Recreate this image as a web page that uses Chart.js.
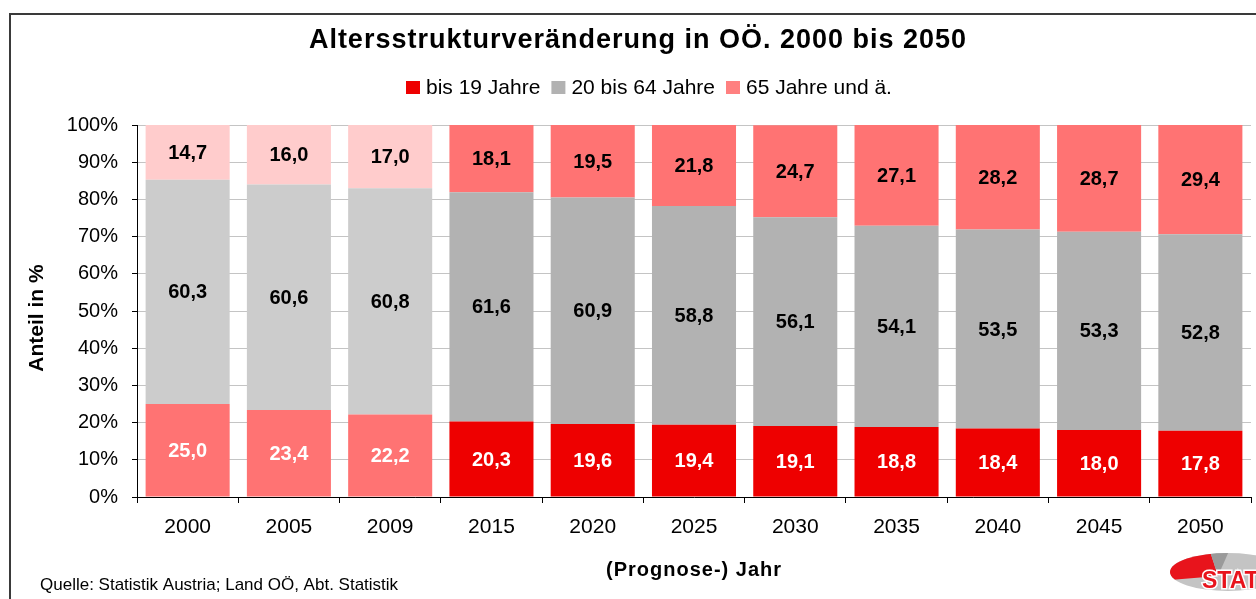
<!DOCTYPE html>
<html>
<head>
<meta charset="utf-8">
<script src="https://cdn.jsdelivr.net/npm/chart.js@4.4.1/dist/chart.umd.min.js"></script>
<style>
  html, body { margin: 0; padding: 0; background: #fff; }
  #wrap { width: 1256px; height: 599px; position: relative; }
</style>
</head>
<body>
<div id="wrap"><canvas id="c" width="1256" height="599"></canvas></div>
<script>
// ---- data ----
const categories = ['2000','2005','2009','2015','2020','2025','2030','2035','2040','2045','2050'];
const seriesNames = ['bis 19 Jahre', '20 bis 64 Jahre', '65 Jahre und ä.'];
const bis19 = [25.0, 23.4, 22.2, 20.3, 19.6, 19.4, 19.1, 18.8, 18.4, 18.0, 17.8];
const age20to64 = [60.3, 60.6, 60.8, 61.6, 60.9, 58.8, 56.1, 54.1, 53.5, 53.3, 52.8];
const age65plus = [14.7, 16.0, 17.0, 18.1, 19.5, 21.8, 24.7, 27.1, 28.2, 28.7, 29.4];
const yTicks = [0,10,20,30,40,50,60,70,80,90,100];
const titleText = 'Altersstrukturveränderung in OÖ. 2000 bis 2050';
const xTitleText = '(Prognose-) Jahr';
const yTitleText = 'Anteil in %';
const sourceText = 'Quelle: Statistik Austria; Land OÖ, Abt. Statistik';

// ---- styles ----
const histCount = 3; // first three columns are observed values (lighter palette)
const colHist = ['#FF7373', '#CCCCCC', '#FFCCCC'];
const colProg = ['#EE0000', '#B2B2B2', '#FF7373'];
const legendColors = ['#EE0000', '#B2B2B2', '#FF8080'];
const labelColors = ['#FFFFFF', '#000000', '#000000'];
const FONT = "'Liberation Sans', Arial, sans-serif";

function colorsFor(i) {
  return categories.map((c, k) => (k < histCount ? colHist[i] : colProg[i]));
}

const seriesData = [bis19, age20to64, age65plus];
const datasets = seriesData.map((d, i) => ({
  label: seriesNames[i],
  data: d,
  backgroundColor: colorsFor(i),
  borderWidth: 0,
  barPercentage: 0.83,
  categoryPercentage: 1.0,
  stack: 's'
}));

const fmt = v => v.toFixed(1).replace('.', ',');

const labelPlugin = {
  id: 'segLabels',
  afterDatasetsDraw(chart) {
    const ctx = chart.ctx;
    ctx.save();
    ctx.font = 'bold 20px ' + FONT;
    ctx.textAlign = 'center';
    ctx.textBaseline = 'middle';
    chart.data.datasets.forEach((ds, i) => {
      const meta = chart.getDatasetMeta(i);
      ctx.fillStyle = labelColors[i];
      meta.data.forEach((bar, k) => {
        const cy = (bar.y + bar.base) / 2;
        ctx.fillText(fmt(ds.data[k]), bar.x, cy + 1);
      });
    });
    ctx.restore();
  }
};

const decoPlugin = {
  id: 'deco',
  afterDraw(chart) {
    const ctx = chart.ctx;
    const area = chart.chartArea;
    ctx.save();
    // frame
    ctx.fillStyle = '#3A3A3A';
    ctx.fillRect(9, 13, 1247, 2);
    ctx.fillRect(9, 13, 2, 586);

    // title
    ctx.fillStyle = '#000';
    ctx.font = 'bold 27px ' + FONT;
    ctx.textAlign = 'center';
    ctx.textBaseline = 'middle';
    try { ctx.letterSpacing = '1px'; } catch (e) {}
    ctx.fillText(titleText, 638, 41);

    // x axis title
    ctx.font = 'bold 20px ' + FONT;
    ctx.fillText(xTitleText, (area.left + area.right) / 2, 570);
    try { ctx.letterSpacing = '0px'; } catch (e) {}

    // y axis title
    ctx.save();
    ctx.translate(37, (area.top + area.bottom) / 2 + 7);
    ctx.rotate(-Math.PI / 2);
    ctx.font = 'bold 21px ' + FONT;
    ctx.fillText(yTitleText, 0, 0);
    ctx.restore();

    // legend
    ctx.font = '21px ' + FONT;
    ctx.textAlign = 'left';
    let x = 406;
    seriesNames.forEach((name, i) => {
      ctx.fillStyle = legendColors[i];
      ctx.fillRect(x, 81, 14, 13);
      ctx.fillStyle = '#000';
      ctx.fillText(name, x + 20, 88);
      x += 20 + ctx.measureText(name).width + 11;
    });

    // source
    ctx.font = '17px ' + FONT;
    ctx.fillStyle = '#000';
    ctx.textBaseline = 'alphabetic';
    ctx.fillText(sourceText, 40, 590);

    // logo (approximate)
    const cx = 1228, cy = 572, rx = 58, ry = 19;
    ctx.beginPath();
    ctx.ellipse(cx, cy, rx, ry, 0, 0, Math.PI * 2);
    ctx.fillStyle = '#C4C4C4';
    ctx.fill();
    ctx.save();
    ctx.beginPath();
    ctx.ellipse(cx, cy, rx, ry, 0, 0, Math.PI * 2);
    ctx.clip();
    ctx.beginPath();
    ctx.moveTo(cx - 10, cy + 4);
    ctx.lineTo(cx - 80, cy + 10);
    ctx.lineTo(cx - 80, cy - 30);
    ctx.lineTo(cx - 21, cy - 30);
    ctx.closePath();
    ctx.fillStyle = '#E8141C';
    ctx.fill();
    ctx.beginPath();
    ctx.moveTo(cx - 10, cy + 4);
    ctx.lineTo(cx - 21, cy - 30);
    ctx.lineTo(cx + 5, cy - 30);
    ctx.closePath();
    ctx.fillStyle = '#9A9A9A';
    ctx.fill();
    ctx.restore();
    ctx.font = 'bold 23px ' + FONT;
    ctx.lineWidth = 3;
    ctx.strokeStyle = '#FFFFFF';
    ctx.strokeText('STAT', 1202, 588);
    ctx.fillStyle = '#E8141C';
    ctx.fillText('STAT', 1202, 588);
    ctx.restore();
  }
};

new Chart(document.getElementById('c'), {
  type: 'bar',
  data: { labels: categories, datasets },
  options: {
    responsive: false,
    animation: false,
    devicePixelRatio: 1,
    layout: { padding: { top: 125, left: 25, right: 5, bottom: 0 } },
    plugins: {
      legend: { display: false },
      title: { display: false },
      tooltip: { enabled: false }
    },
    scales: {
      x: {
        stacked: true,
        offset: true,
        grid: { display: true, drawOnChartArea: false, drawTicks: true, tickLength: 6, color: '#000', offset: true },
        border: { display: true, color: '#000', width: 1 },
        ticks: { color: '#000', font: { family: FONT, size: 21 }, padding: 12, maxRotation: 0 },
        title: { display: false },
        afterFit(scale) { scale.height = 102; }
      },
      y: {
        stacked: true,
        min: 0,
        max: 100,
        afterBuildTicks(scale) { scale.ticks = yTicks.map(v => ({ value: v })); },
        grid: { display: true, drawOnChartArea: true, drawTicks: true, tickLength: 5, color: '#C4C4C4', tickColor: '#000' },
        border: { display: true, color: '#000', width: 1 },
        ticks: { color: '#000', font: { family: FONT, size: 20 }, padding: 14, callback: v => v + '%' },
        title: { display: false },
        afterFit(scale) { scale.width = 112; }
      }
    }
  },
  plugins: [labelPlugin, decoPlugin]
});
</script>
</body>
</html>
